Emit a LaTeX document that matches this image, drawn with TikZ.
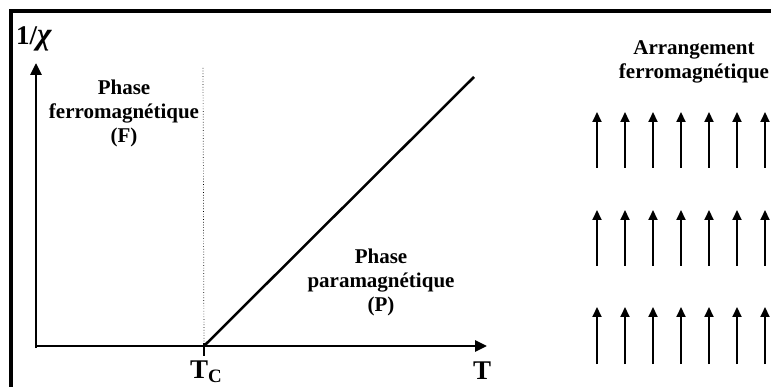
\documentclass[tikz,border=0pt]{standalone}
\usepackage{fontspec}
\setmainfont{Liberation Serif}
\usetikzlibrary{arrows.meta,positioning}

\begin{document}
\begin{tikzpicture}[x=1pt, y=-1pt,
    axis/.style={line width=2.8pt, -{Triangle[length=12pt, width=11pt]}},
    spin/.style={line width=2pt, -{Triangle[length=10pt, width=9pt]}},
    label/.style={font=\fontsize{21}{24}\selectfont\bfseries, align=center, inner sep=0pt},
    axlabel/.style={font=\fontsize{27}{30}\selectfont\bfseries, inner sep=0pt}
]
\useasboundingbox (0,0) rectangle (771,387);
\clip (0,0) rectangle (771,387);

% frame
\draw[line width=3.5pt] (11,420) -- (11,11) -- (800,11);

% axes
\coordinate (O) at (36,346);
\coordinate (ytop) at (36,63);
\coordinate (xend) at (487,346);
\coordinate (Tc) at (204,346);
\coordinate (Tctop) at (203,68);
\coordinate (Pend) at (474,77);

\draw[axis] (36,348) -- (ytop);
\draw[axis] (O) -- (xend);
\draw[line width=2pt] (204,343) -- (204,356);
\draw[dotted, line width=0.7pt] (Tctop) -- (Tc);
\draw[line width=2.5pt] (Tc) -- (Pend);

\node[axlabel, anchor=north west] (chi) at (16,26) {1/\textit{\fontsize{31}{31}\selectfont χ}};
\node[axlabel, anchor=north west] (tc) at (190,361) {T\textsubscript{C}};
\node[axlabel, anchor=north west] (t) at (473,362) {T};

\node[label] (ferro) at (124,113) {Phase\\ferromagnétique\\(F)};
\node[label] (para) at (381,282) {Phase\\paramagnétique\\(P)};
\node[label] (arr) at (694,62) {Arrangement\\ferromagnétique};

% spins
\foreach \x in {597,625,653,681,709,737,765} {
    \draw[spin] (\x,168) -- (\x,112);
    \draw[spin] (\x,266) -- (\x,210);
    \draw[spin] (\x,364) -- (\x,307);
}

\end{tikzpicture}
\end{document}
